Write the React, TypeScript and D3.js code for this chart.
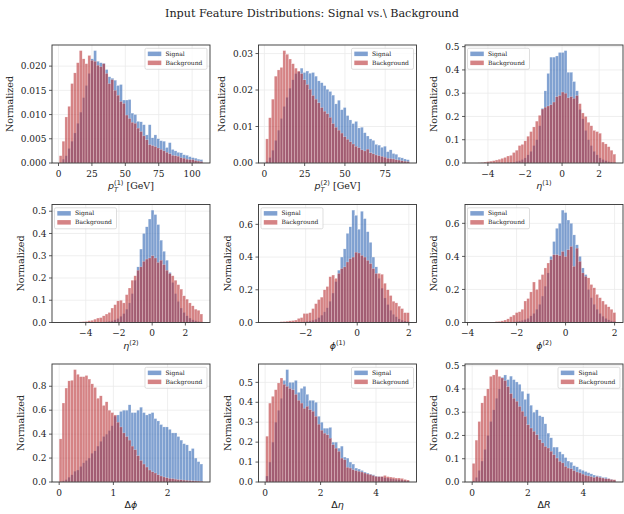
import React from 'react';
import * as d3 from 'd3';

const titleText = 'Input Feature Distributions: Signal vs.\\ Background';
const seriesNames = ['Signal', 'Background'];
const signalColor = '#2c62b2';
const backgroundColor = '#b93034';
const barAlpha = 0.6;

// pT leading
const pt1Range = [0.5, 108];
const pt1Signal = [0, 0.0008, 0.0015, 0.003, 0.0045, 0.0062, 0.0082, 0.0105, 0.0135, 0.016,
  0.0185, 0.0215, 0.0232, 0.021, 0.0207, 0.0206, 0.0193, 0.0178, 0.0175, 0.0171,
  0.016, 0.0162, 0.013, 0.013, 0.0131, 0.0103, 0.01, 0.0086, 0.0085, 0.0079,
  0.0058, 0.0079, 0.0052, 0.0058, 0.005, 0.0046, 0.0045, 0.0032, 0.0042, 0.0028,
  0.0025, 0.0022, 0.0021, 0.0017, 0.0016, 0.0013, 0.0011, 0.001, 0.0008, 0.0007];
const pt1Background = [0.0015, 0.0045, 0.0095, 0.0117, 0.0164, 0.0186, 0.0207, 0.0232, 0.0215, 0.0205,
  0.0222, 0.0212, 0.021, 0.0202, 0.0199, 0.0205, 0.0185, 0.0164, 0.0172, 0.015,
  0.014, 0.0127, 0.0123, 0.0099, 0.0092, 0.0084, 0.0082, 0.0072, 0.0065, 0.0056,
  0.0048, 0.0038, 0.0036, 0.0034, 0.0031, 0.0028, 0.0025, 0.0022, 0.0019, 0.0016,
  0.0015, 0.0014, 0.0011, 0.001, 0.0008, 0.0007, 0.0007, 0.0005, 0.0004, 0.0003];
const pt1XTicks = [0, 25, 50, 75, 100];
const pt1YTicks = [0, 0.005, 0.01, 0.015, 0.02];

// pT subleading
const pt2Range = [0.8, 90];
const pt2Signal = [0.0004, 0.0015, 0.0035, 0.0062, 0.009, 0.0122, 0.0155, 0.018, 0.0205, 0.0228,
  0.0245, 0.025, 0.026, 0.0248, 0.0252, 0.0246, 0.0248, 0.0238, 0.0225, 0.022,
  0.0212, 0.0202, 0.0196, 0.0186, 0.0162, 0.0172, 0.0146, 0.0152, 0.013, 0.0118,
  0.0108, 0.0114, 0.0096, 0.0098, 0.0083, 0.0074, 0.0066, 0.0062, 0.0051, 0.0049,
  0.0043, 0.0046, 0.0031, 0.0036, 0.0026, 0.0024, 0.0016, 0.0014, 0.0011, 0.0009];
const pt2Background = [0.0066, 0.0124, 0.0175, 0.0238, 0.0255, 0.0262, 0.0308, 0.0298, 0.0285, 0.0272,
  0.026, 0.0252, 0.0245, 0.0228, 0.0215, 0.0202, 0.0185, 0.0175, 0.0165, 0.0152,
  0.0142, 0.0135, 0.0125, 0.0108, 0.0098, 0.009, 0.0082, 0.0072, 0.0065, 0.0058,
  0.0052, 0.0046, 0.0042, 0.0036, 0.0033, 0.0038, 0.0028, 0.0025, 0.0022, 0.002,
  0.0018, 0.0016, 0.0013, 0.0012, 0.0011, 0.0009, 0.0008, 0.0006, 0.0005, 0.0004];
const pt2XTicks = [0, 25, 50, 75];
const pt2YTicks = [0, 0.01, 0.02, 0.03];

// eta leading
const eta1Range = [-4.85, 2.9];
const eta1Signal = [0, 0, 0, 0, 0, 0, 0, 0, 0, 0,
  0.001, 0.001, 0.002, 0.003, 0.004, 0.007, 0.01, 0.015, 0.022, 0.035,
  0.05, 0.075, 0.1, 0.16, 0.235, 0.31, 0.385, 0.455, 0.455, 0.46,
  0.475, 0.475, 0.483, 0.39, 0.39, 0.35, 0.31, 0.23, 0.19, 0.14,
  0.1, 0.075, 0.05, 0.035, 0.022, 0.015, 0.01, 0.006, 0.004, 0.002];
const eta1Background = [0, 0, 0.001, 0.002, 0.004, 0.006, 0.008, 0.01, 0.013, 0.016,
  0.02, 0.024, 0.03, 0.033, 0.045, 0.055, 0.075, 0.08, 0.095, 0.115,
  0.135, 0.155, 0.18, 0.205, 0.232, 0.24, 0.245, 0.25, 0.262, 0.285,
  0.29, 0.305, 0.3, 0.28, 0.285, 0.278, 0.29, 0.255, 0.215, 0.2,
  0.175, 0.16, 0.14, 0.135, 0.128, 0.09, 0.082, 0.07, 0.055, 0.038];
const etaXTicks = [-4, -2, 0, 2];
const etaYTicks = [0, 0.1, 0.2, 0.3, 0.4, 0.5];

// eta subleading
const eta2Range = [-5.6, 3.05];
const eta2Signal = [0, 0, 0, 0, 0, 0, 0, 0, 0, 0,
  0, 0, 0.001, 0.001, 0.002, 0.003, 0.004, 0.006, 0.008, 0.012,
  0.018, 0.028, 0.04, 0.06, 0.088, 0.13, 0.19, 0.25, 0.33, 0.4,
  0.43, 0.465, 0.505, 0.485, 0.44, 0.37, 0.32, 0.28, 0.225, 0.18,
  0.13, 0.095, 0.065, 0.045, 0.03, 0.02, 0.012, 0.008, 0.005, 0.003];
const eta2Background = [0, 0, 0, 0, 0.001, 0.001, 0.002, 0.003, 0.004, 0.005,
  0.008, 0.01, 0.015, 0.02, 0.022, 0.03, 0.038, 0.045, 0.065, 0.08,
  0.097, 0.1, 0.088, 0.125, 0.155, 0.19, 0.21, 0.235, 0.25, 0.275,
  0.285, 0.29, 0.3, 0.29, 0.27, 0.28, 0.26, 0.235, 0.22, 0.21,
  0.19, 0.17, 0.15, 0.12, 0.105, 0.088, 0.075, 0.06, 0.055, 0.038];

// phi leading
const phi1Range = [-3.55, 2.02];
const phi1Signal = [0, 0, 0, 0, 0, 0, 0, 0, 0.001, 0.001,
  0.002, 0.002, 0.003, 0.005, 0.007, 0.01, 0.014, 0.02, 0.03, 0.045,
  0.065, 0.09, 0.13, 0.18, 0.25, 0.32, 0.4, 0.45, 0.545, 0.585,
  0.687, 0.655, 0.57, 0.68, 0.635, 0.555, 0.49, 0.4, 0.34, 0.27,
  0.21, 0.15, 0.11, 0.075, 0.05, 0.035, 0.022, 0.014, 0.009, 0.006];
const phi1Background = [0, 0, 0, 0, 0.002, 0.005, 0.006, 0.008, 0.01, 0.012,
  0.015, 0.025, 0.03, 0.055, 0.055, 0.06, 0.085, 0.115, 0.14, 0.155,
  0.2, 0.22, 0.28, 0.29, 0.27, 0.3, 0.33, 0.34, 0.37, 0.39,
  0.4, 0.43, 0.425, 0.41, 0.4, 0.38, 0.36, 0.33, 0.3, 0.3,
  0.295, 0.24, 0.2, 0.165, 0.13, 0.12, 0.1, 0.085, 0.06, 0.06];
const phi1XTicks = [-2, 0, 2];
const phiYTicks = [0, 0.2, 0.4, 0.6];

// phi subleading
const phi2Range = [-3.81, 2.05];
const phi2Signal = [0, 0, 0, 0, 0, 0, 0, 0, 0, 0,
  0.001, 0.001, 0.002, 0.003, 0.004, 0.006, 0.009, 0.013, 0.018, 0.025,
  0.04, 0.055, 0.08, 0.11, 0.16, 0.22, 0.3, 0.4, 0.49, 0.57,
  0.6, 0.68, 0.665, 0.62, 0.6, 0.53, 0.47, 0.4, 0.33, 0.29,
  0.2, 0.15, 0.11, 0.08, 0.055, 0.038, 0.025, 0.016, 0.01, 0.007];
const phi2Background = [0, 0, 0, 0, 0, 0, 0.001, 0.003, 0.006, 0.007,
  0.01, 0.015, 0.022, 0.035, 0.045, 0.06, 0.065, 0.08, 0.13, 0.145,
  0.185, 0.245, 0.2, 0.26, 0.29, 0.33, 0.36, 0.38, 0.41, 0.41,
  0.405, 0.43, 0.4, 0.44, 0.46, 0.34, 0.45, 0.37, 0.3, 0.28,
  0.27, 0.23, 0.21, 0.17, 0.15, 0.13, 0.11, 0.095, 0.08, 0.06];
const phi2XTicks = [-4, -2, 0, 2];

// delta phi
const dphiRange = [0, 2.65];
const dphiSignal = [0.003, 0.01, 0.02, 0.04, 0.06, 0.09, 0.1, 0.13, 0.16, 0.18,
  0.2, 0.24, 0.26, 0.3, 0.34, 0.38, 0.4, 0.43, 0.47, 0.55,
  0.56, 0.59, 0.6, 0.6, 0.645, 0.58, 0.58, 0.6, 0.625, 0.58,
  0.56, 0.57, 0.58, 0.53, 0.51, 0.48, 0.46, 0.46, 0.44, 0.41,
  0.41, 0.38, 0.35, 0.32, 0.31, 0.26, 0.28, 0.2, 0.17, 0.15];
const dphiBackground = [0.36, 0.66, 0.785, 0.845, 0.85, 0.939, 0.9, 0.88, 0.88, 0.89,
  0.86, 0.82, 0.79, 0.7, 0.72, 0.64, 0.67, 0.6, 0.58, 0.56,
  0.5, 0.46, 0.41, 0.38, 0.35, 0.3, 0.27, 0.22, 0.18, 0.15,
  0.125, 0.1, 0.085, 0.075, 0.06, 0.05, 0.042, 0.035, 0.03, 0.028,
  0.024, 0.02, 0.018, 0.016, 0.014, 0.012, 0.01, 0.009, 0.008, 0.006];
const dphiXTicks = [0, 1, 2];
const dphiYTicks = [0, 0.2, 0.4, 0.6, 0.8];

// delta eta
const detaRange = [0.02, 5.2];
const detaSignal = [0.03, 0.1, 0.2, 0.3, 0.36, 0.42, 0.51, 0.564, 0.5, 0.5,
  0.51, 0.45, 0.47, 0.48, 0.44, 0.41, 0.41, 0.4, 0.33, 0.3,
  0.27, 0.27, 0.274, 0.2, 0.2, 0.17, 0.18, 0.125, 0.12, 0.1,
  0.09, 0.07, 0.065, 0.058, 0.05, 0.045, 0.04, 0.036, 0.03, 0.028,
  0.026, 0.022, 0.02, 0.017, 0.015, 0.013, 0.012, 0.01, 0.008, 0.006];
const detaBackground = [0.23, 0.396, 0.43, 0.463, 0.497, 0.522, 0.49, 0.48, 0.47, 0.463,
  0.44, 0.41, 0.396, 0.37, 0.38, 0.363, 0.355, 0.33, 0.29, 0.26,
  0.245, 0.237, 0.22, 0.187, 0.17, 0.154, 0.12, 0.112, 0.074, 0.07,
  0.062, 0.057, 0.054, 0.05, 0.045, 0.04, 0.037, 0.032, 0.028, 0.027,
  0.028, 0.033, 0.027, 0.025, 0.023, 0.02, 0.02, 0.018, 0.013, 0.01];
const detaXTicks = [0, 2, 4];
const detaYTicks = [0, 0.1, 0.2, 0.3, 0.4, 0.5];

// delta R
const drRange = [0, 5.17];
const drSignal = [0.005, 0.02, 0.05, 0.09, 0.14, 0.2, 0.26, 0.31, 0.36, 0.4,
  0.45, 0.46, 0.44, 0.455, 0.44, 0.43, 0.42, 0.39, 0.355, 0.38,
  0.33, 0.3, 0.31, 0.285, 0.28, 0.25, 0.21, 0.19, 0.15, 0.15,
  0.13, 0.12, 0.105, 0.09, 0.085, 0.07, 0.065, 0.055, 0.05, 0.045,
  0.04, 0.035, 0.03, 0.027, 0.025, 0.02, 0.02, 0.015, 0.012, 0.008];
const drBackground = [0.08, 0.18, 0.26, 0.34, 0.37, 0.4, 0.454, 0.46, 0.483, 0.454,
  0.447, 0.436, 0.41, 0.38, 0.36, 0.347, 0.325, 0.304, 0.282, 0.246,
  0.232, 0.218, 0.203, 0.182, 0.168, 0.153, 0.146, 0.132, 0.117, 0.103,
  0.089, 0.082, 0.067, 0.06, 0.057, 0.049, 0.043, 0.039, 0.034, 0.029,
  0.026, 0.023, 0.02, 0.023, 0.02, 0.017, 0.014, 0.014, 0.011, 0.01];
const drXTicks = [0, 2, 4];
const drYTicks = [0, 0.1, 0.2, 0.3, 0.4, 0.5];

const SERIF = 'DejaVu Serif, serif';
const MATH = 'DejaVu Sans, sans-serif';
const W = 624;
const H = 514;
const colLeft = [52, 258.5, 465];
const rowTop = [45, 204.5, 364];
const axW = 158;
const axH = 118;
const tickFont = 9;
const labelFont = 9.5;

// rough DejaVu Serif glyph widths for label placement
const textWidth = (s: string, size: number) =>
  s.split('').reduce((a, c) => a + (c === '.' ? 0.318 : c === '\u2212' ? 0.838 : 0.636), 0) * size;

const sub = (t: string) => (
  <tspan fontFamily={MATH} fontStyle="italic" dy={2.6} fontSize={6.6}>{t}</tspan>
);

const xLabels: Record<string, React.ReactNode> = {
  pt1: (
    <>
      <tspan fontFamily={MATH} fontStyle="italic">p</tspan>
      {sub('T')}
      <tspan fontFamily={MATH} dx={-4} dy={-7} fontSize={6.6}>(1)</tspan>
      <tspan dy={4.4}> [GeV]</tspan>
    </>
  ),
  pt2: (
    <>
      <tspan fontFamily={MATH} fontStyle="italic">p</tspan>
      {sub('T')}
      <tspan fontFamily={MATH} dx={-4} dy={-7} fontSize={6.6}>(2)</tspan>
      <tspan dy={4.4}> [GeV]</tspan>
    </>
  ),
  eta1: (
    <>
      <tspan fontFamily={MATH} fontStyle="italic">η</tspan>
      <tspan fontFamily={MATH} dy={-4} fontSize={6.6}>(1)</tspan>
    </>
  ),
  eta2: (
    <>
      <tspan fontFamily={MATH} fontStyle="italic">η</tspan>
      <tspan fontFamily={MATH} dy={-4} fontSize={6.6}>(2)</tspan>
    </>
  ),
  phi1: (
    <>
      <tspan fontFamily={MATH} fontStyle="italic">ϕ</tspan>
      <tspan fontFamily={MATH} dy={-4} fontSize={6.6}>(1)</tspan>
    </>
  ),
  phi2: (
    <>
      <tspan fontFamily={MATH} fontStyle="italic">ϕ</tspan>
      <tspan fontFamily={MATH} dy={-4} fontSize={6.6}>(2)</tspan>
    </>
  ),
  dphi: (
    <>
      <tspan fontFamily={MATH}>Δ</tspan>
      <tspan fontFamily={MATH} fontStyle="italic">ϕ</tspan>
    </>
  ),
  deta: (
    <>
      <tspan fontFamily={MATH}>Δ</tspan>
      <tspan fontFamily={MATH} fontStyle="italic">η</tspan>
    </>
  ),
  dr: (
    <>
      <tspan fontFamily={MATH}>Δ</tspan>
      <tspan fontFamily={MATH} fontStyle="italic">R</tspan>
    </>
  ),
};

const panels = [
  { key: 'pt1', range: pt1Range, signal: pt1Signal, background: pt1Background, xTicks: pt1XTicks, yTicks: pt1YTicks, yFmt: '.3f', legend: 'right' },
  { key: 'pt2', range: pt2Range, signal: pt2Signal, background: pt2Background, xTicks: pt2XTicks, yTicks: pt2YTicks, yFmt: '.2f', legend: 'right' },
  { key: 'eta1', range: eta1Range, signal: eta1Signal, background: eta1Background, xTicks: etaXTicks, yTicks: etaYTicks, yFmt: '.1f', legend: 'left' },
  { key: 'eta2', range: eta2Range, signal: eta2Signal, background: eta2Background, xTicks: etaXTicks, yTicks: etaYTicks, yFmt: '.1f', legend: 'left' },
  { key: 'phi1', range: phi1Range, signal: phi1Signal, background: phi1Background, xTicks: phi1XTicks, yTicks: phiYTicks, yFmt: '.1f', legend: 'left' },
  { key: 'phi2', range: phi2Range, signal: phi2Signal, background: phi2Background, xTicks: phi2XTicks, yTicks: phiYTicks, yFmt: '.1f', legend: 'left' },
  { key: 'dphi', range: dphiRange, signal: dphiSignal, background: dphiBackground, xTicks: dphiXTicks, yTicks: dphiYTicks, yFmt: '.1f', legend: 'right' },
  { key: 'deta', range: detaRange, signal: detaSignal, background: detaBackground, xTicks: detaXTicks, yTicks: detaYTicks, yFmt: '.1f', legend: 'right' },
  { key: 'dr', range: drRange, signal: drSignal, background: drBackground, xTicks: drXTicks, yTicks: drYTicks, yFmt: '.1f', legend: 'right' },
];

function Panel({ p, left, top }: { p: any; left: number; top: number }) {
  const [lo, hi] = p.range;
  const pad = (hi - lo) * 0.05;
  const x = d3.scaleLinear().domain([lo - pad, hi + pad]).range([left, left + axW]);
  const ymax = (d3.max([...p.signal, ...p.background]) as number) * 1.05;
  const y = d3.scaleLinear().domain([0, ymax]).range([top + axH, top]);
  const nb = p.signal.length;
  const edges = d3.range(nb + 1).map((i) => lo + ((hi - lo) * i) / nb);
  const bottom = top + axH;
  const yf = d3.format(p.yFmt);
  const xf = d3.format('d');
  const maxTickW = d3.max(p.yTicks.map((t: number) => textWidth(yf(t), tickFont))) as number;
  const yLabelX = left - 5.5 - maxTickW - 8;

  const bars = (vals: number[], color: string) =>
    vals.map((v, i) => (
      <rect
        key={i}
        x={x(edges[i])}
        y={y(v)}
        width={x(edges[i + 1]) - x(edges[i])}
        height={bottom - y(v)}
        fill={color}
        fillOpacity={barAlpha}
        stroke="#fff"
        strokeOpacity={0.6}
        strokeWidth={0.35}
      />
    ));

  const legW = 62;
  const legX = p.legend === 'right' ? left + axW - 3 - legW : left + 2.5;
  const legY = top + 3.3;

  return (
    <g>
      <defs>
        <clipPath id={`clip-${p.key}`}>
          <rect x={left} y={top} width={axW} height={axH} />
        </clipPath>
      </defs>
      <g stroke="#ebebeb" strokeWidth={0.8}>
        {p.xTicks.map((t: number) => (
          <line key={`gx${t}`} x1={x(t)} x2={x(t)} y1={top} y2={bottom} />
        ))}
        {p.yTicks.map((t: number) => (
          <line key={`gy${t}`} x1={left} x2={left + axW} y1={y(t)} y2={y(t)} />
        ))}
      </g>
      <g clipPath={`url(#clip-${p.key})`}>
        {bars(p.signal, signalColor)}
        {bars(p.background, backgroundColor)}
      </g>
      <rect x={left} y={top} width={axW} height={axH} fill="none" stroke="#333" strokeWidth={0.9} />
      <g stroke="#333" strokeWidth={0.8}>
        {p.xTicks.map((t: number) => (
          <line key={`tx${t}`} x1={x(t)} x2={x(t)} y1={bottom} y2={bottom + 3} />
        ))}
        {p.yTicks.map((t: number) => (
          <line key={`ty${t}`} x1={left - 3} x2={left} y1={y(t)} y2={y(t)} />
        ))}
      </g>
      <g fontFamily={SERIF} fontSize={tickFont} fill="#222">
        {p.xTicks.map((t: number) => (
          <text key={`lx${t}`} x={x(t)} y={bottom + 13.5} textAnchor="middle">
            {xf(t)}
          </text>
        ))}
        {p.yTicks.map((t: number) => (
          <text key={`ly${t}`} x={left - 5.5} y={y(t) + 3.2} textAnchor="end">
            {yf(t)}
          </text>
        ))}
      </g>
      <text
        transform={`translate(${yLabelX},${top + axH / 2}) rotate(-90)`}
        textAnchor="middle"
        fontFamily={SERIF}
        fontSize={labelFont}
        fill="#222"
      >
        Normalized
      </text>
      <text x={left + axW / 2} y={bottom + 26} textAnchor="middle" fontFamily={SERIF} fontSize={labelFont} fill="#222">
        {xLabels[p.key]}
      </text>
      <g>
        <rect x={legX} y={legY} width={legW} height={21} rx={1.5} fill="#fff" fillOpacity={0.8} stroke="#d0d0d0" strokeWidth={0.7} />
        {seriesNames.map((name, i) => (
          <g key={name}>
            <rect
              x={legX + 2.8}
              y={legY + 3.3 + i * 9}
              width={13.5}
              height={4.5}
              fill={i === 0 ? signalColor : backgroundColor}
              fillOpacity={barAlpha}
            />
            <text x={legX + 20.5} y={legY + 7.6 + i * 9} fontFamily={SERIF} fontSize={6} fill="#222">
              {name}
            </text>
          </g>
        ))}
      </g>
    </g>
  );
}

export default function App() {
  return (
    <svg
      width={W}
      height={H}
      viewBox={`0 0 ${W} ${H}`}
      style={{ position: 'absolute', left: 0, top: 0, background: '#fff' }}
    >
      <rect width={W} height={H} fill="#fff" />
      <text x={312} y={17.3} textAnchor="middle" fontFamily={SERIF} fontSize={11.2} fill="#222">
        {titleText}
      </text>
      {panels.map((p, i) => (
        <Panel key={p.key} p={p} left={colLeft[i % 3]} top={rowTop[Math.floor(i / 3)]} />
      ))}
    </svg>
  );
}
